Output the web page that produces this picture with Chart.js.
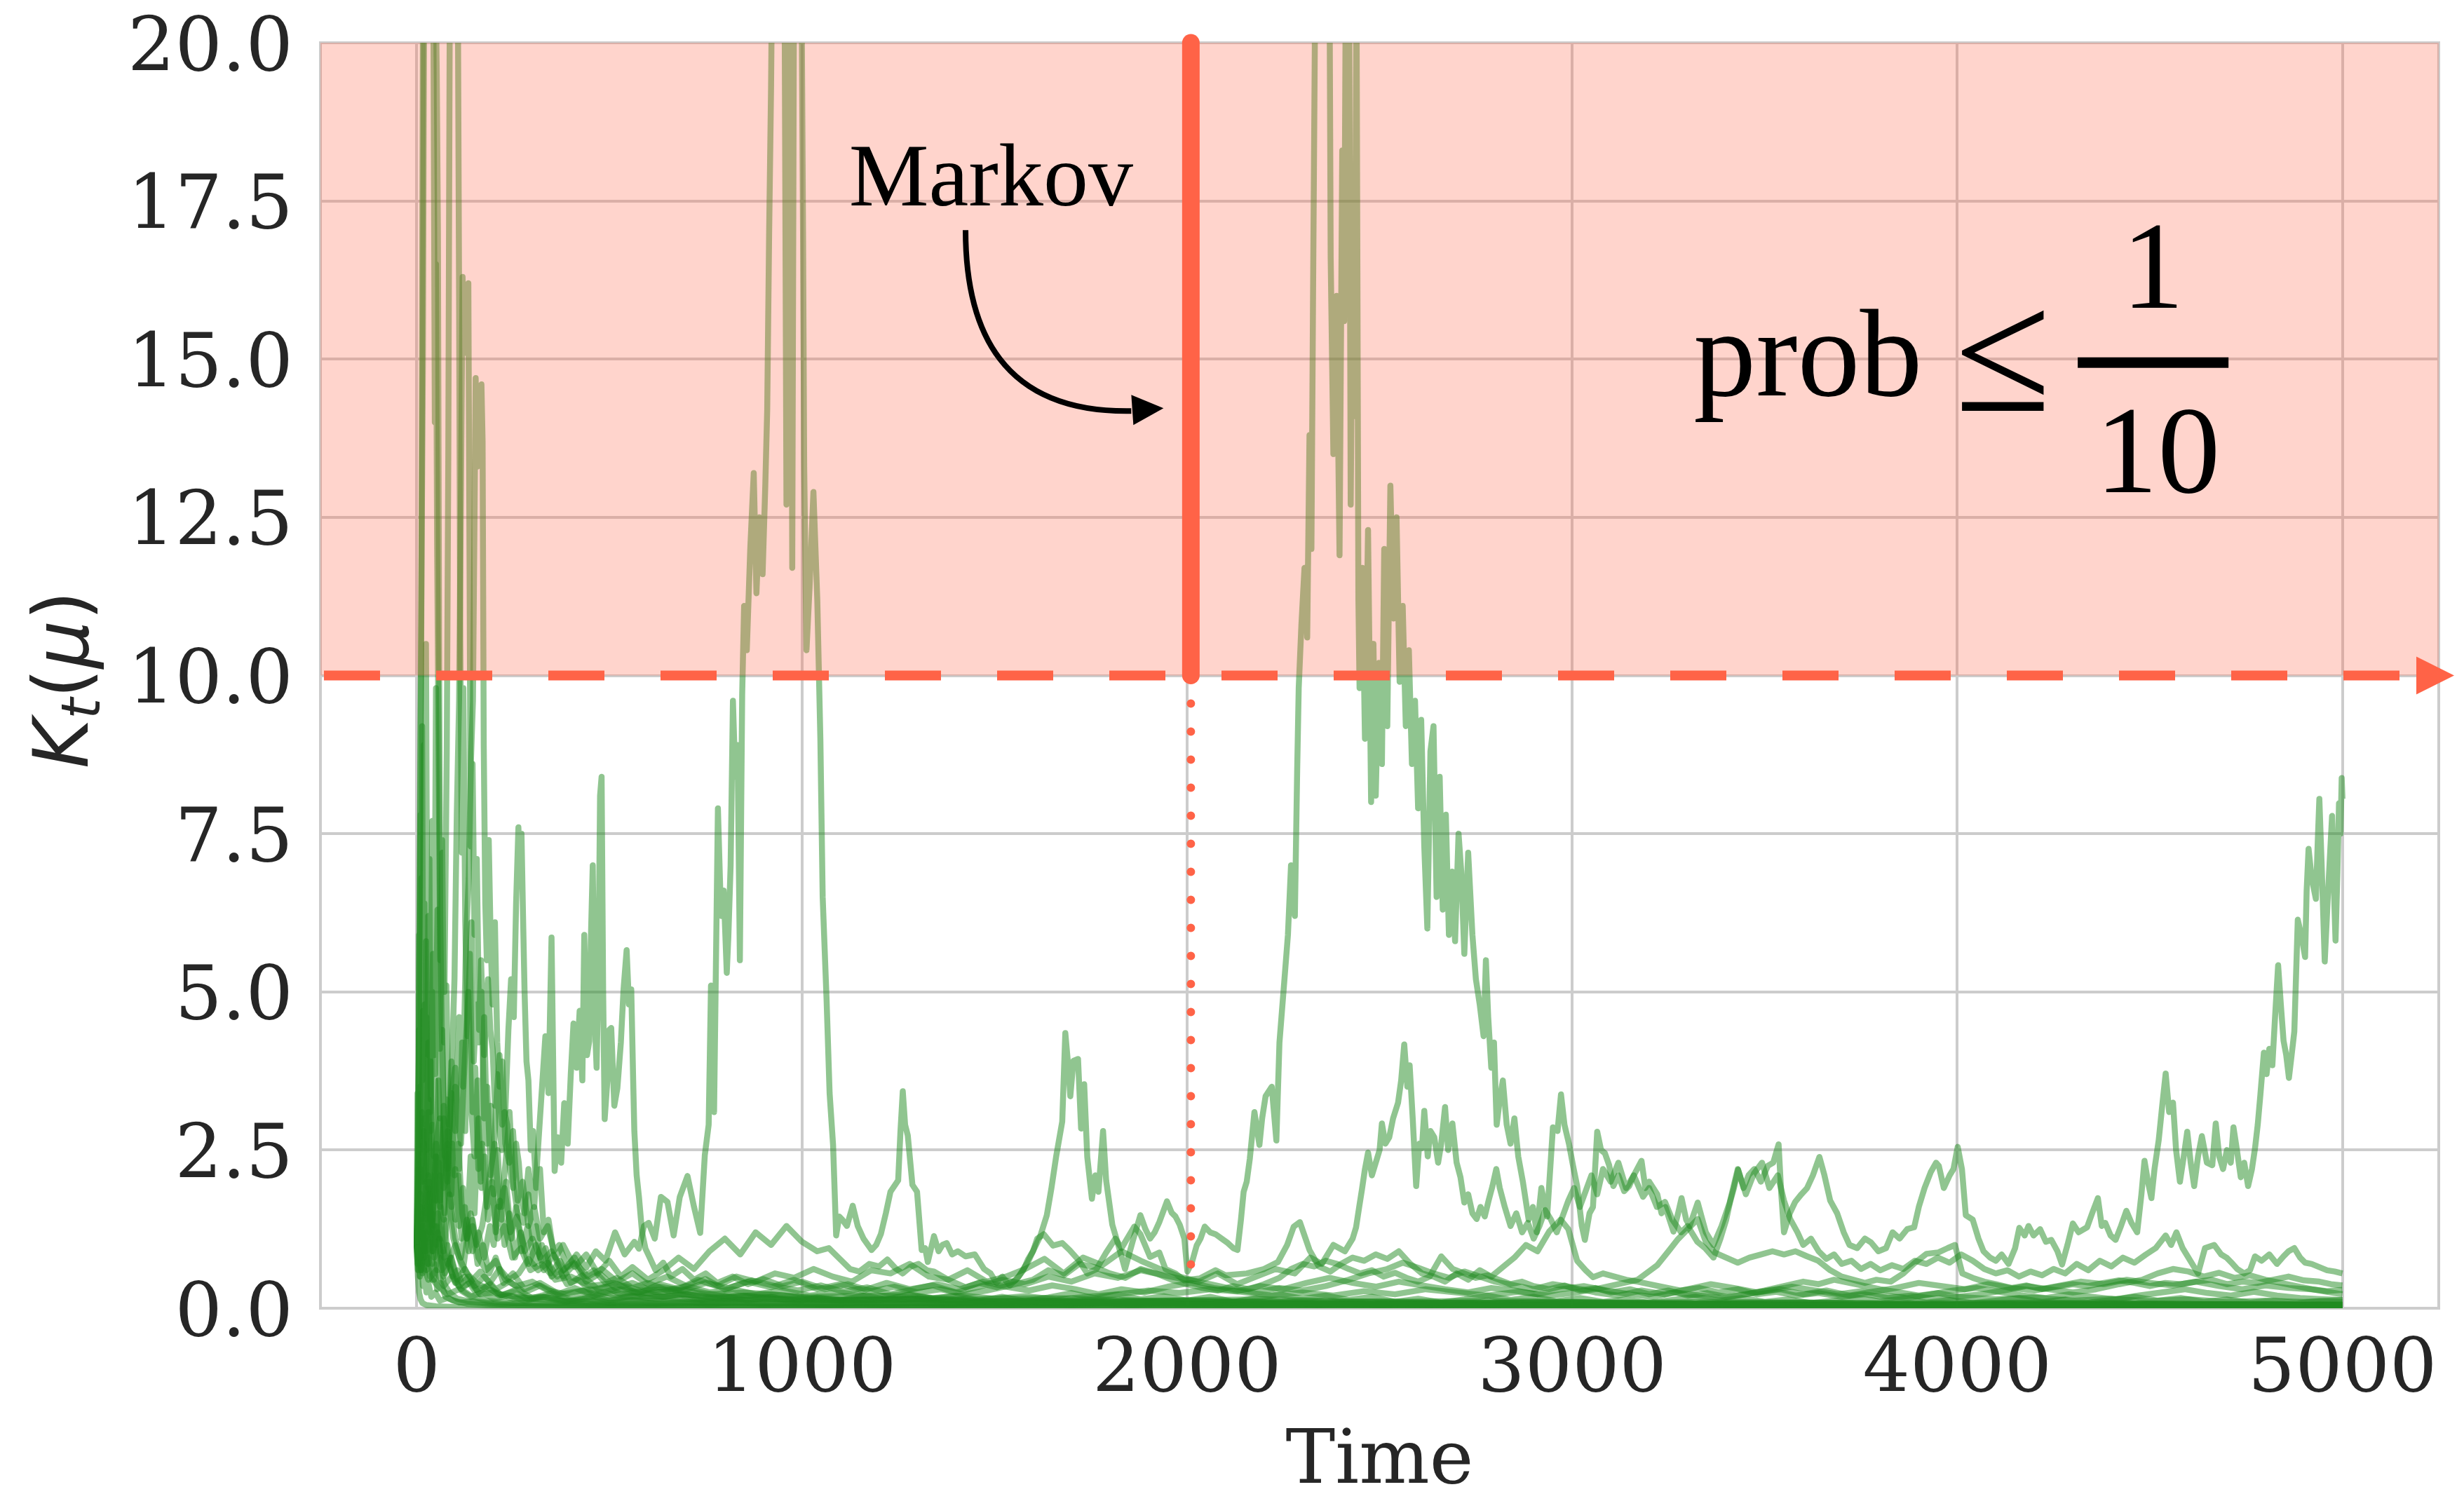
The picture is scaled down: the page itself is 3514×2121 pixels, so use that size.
<!DOCTYPE html>
<html>
<head>
<meta charset="utf-8">
<script src="https://cdn.jsdelivr.net/npm/chart.js@4.4.1/dist/chart.umd.min.js"></script>
<style>
  html, body { margin: 0; padding: 0; background: #ffffff; }
  #chart { display: block; }
</style>
</head>
<body>
<canvas id="chart" width="3514" height="2121"></canvas>
<script>
// axis ticks
const timeTicks = [0, 1000, 2000, 3000, 4000, 5000];
const levelTicks = [0, 2.5, 5, 7.5, 10, 12.5, 15, 17.5, 20];

// threshold and Markov stopping point
const threshold = 10;
const markovTime = 2010;
const markovStop = 0.57;

// sample paths, [time, K_t]
const wanderPath = [
  [0,1.0],[15,0.7],[30,0.45],[50,0.6],[70,0.35],[90,0.5],[115,0.3],[140,0.42],[165,0.58],[190,0.4],
  [215,0.62],[240,0.45],[265,0.55],[290,0.78],[315,0.6],[340,0.72],[365,0.5],[390,0.66],[415,0.85],[440,0.64],
  [465,0.9],[490,0.75],[515,1.2],[540,0.85],[565,1.05],[577,0.94],[590,1.3],[602,1.35],[618,1.1],[634,1.76],
  [651,1.68],[667,1.15],[683,1.76],[703,2.09],[720,1.6],[736,1.19],[748,2.42],[758,2.9],[764,5.1],[772,3.1],
  [782,7.9],[790,6.2],[797,6.6],[805,5.3],[809,5.86],[815,7.0],[821,9.6],[827,8.4],[833,8.9],[839,5.5],
  [845,9.7],[850,11.1],[857,10.4],[866,12.0],[875,13.2],[882,11.3],[890,12.5],[898,11.6],[905,13.0],[910,14.2],
  [915,17.0],[920,19.3],[924,22],[935,24],[948,23],[955,21],[960,12.7],[965,17.5],[970,23],[975,11.7],
  [980,22],[990,25],[998,22],[1003,17.0],[1006,13.3],[1012,10.4],[1020,11.4],[1030,12.9],[1040,11.2],[1048,9.0],
  [1054,6.5],[1064,4.9],[1072,3.4],[1081,2.58],[1089,1.15],[1097,1.45],[1105,1.4],[1117,1.3],[1132,1.62],[1145,1.3],
  [1160,1.1],[1181,0.92],[1193,1.0],[1205,1.17],[1218,1.5],[1230,1.84],[1250,2.02],[1256,2.8],[1262,3.43],[1268,2.9],
  [1275,2.73],[1287,1.95],[1299,1.84],[1311,0.92],[1320,0.95],[1327,0.73],[1343,1.14],[1355,0.9],[1365,1.0],[1376,1.03],
  [1390,0.85],[1405,0.9],[1425,0.82],[1449,0.85],[1473,0.62],[1490,0.55],[1505,0.4],[1520,0.5],[1540,0.36],[1563,0.5],
  [1575,0.62],[1587,0.73],[1600,0.9],[1619,1.14],[1636,1.47],[1648,1.9],[1660,2.39],[1676,2.95],[1684,4.35],[1692,3.8],
  [1697,3.35],[1705,3.91],[1717,3.94],[1725,2.84],[1733,3.54],[1741,2.39],[1753,1.73],[1762,2.1],[1770,1.84],[1782,2.8],
  [1790,2.02],[1806,1.32],[1822,0.99],[1839,0.62],[1859,1.06],[1879,1.47],[1892,1.25],[1904,1.1],[1916,1.2],[1928,1.36],
  [1948,1.69],[1960,1.51],[1970,1.45],[1981,1.32],[1993,1.1],[2001,0.58],[2013,0.73],[2025,0.99],[2035,1.1],[2046,1.29],
  [2060,1.2],[2074,1.17],[2090,1.1],[2106,1.03],[2120,0.95],[2131,0.92],[2140,1.4],[2147,1.84],[2155,2.0],[2163,2.36],
  [2175,3.1],[2188,2.58],[2195,3.0],[2204,3.35],[2220,3.5],[2232,2.65],[2240,4.2],[2253,5.2],[2262,5.9],[2270,7.0],
  [2280,6.2],[2286,8.5],[2290,9.8],[2297,10.8],[2305,11.7],[2312,10.6],[2318,13.8],[2323,12.0],[2327,15.8],[2333,21],
  [2342,24],[2352,22],[2362,25],[2370,21],[2373,16.6],[2380,13.5],[2388,16.0],[2396,11.9],[2403,18.3],[2408,15.6],
  [2413,22],[2420,23],[2425,12.7],[2430,16.7],[2435,14.1],[2440,21],[2445,11.2],[2448,9.8],[2455,11.7],[2462,9.0],
  [2470,12.3],[2478,8.0],[2484,10.5],[2490,8.1],[2498,10.2],[2506,8.6],[2512,12.0],[2520,9.2],[2528,13.0],[2536,10.9],
  [2544,12.5],[2552,9.9],[2560,11.1],[2568,9.2],[2576,10.4],[2584,8.6],[2592,9.6],[2600,7.9],[2608,9.3],[2616,7.3],
  [2624,6.0],[2632,8.8],[2640,9.2],[2648,6.5],[2656,8.4],[2664,6.3],[2672,7.8],[2680,5.9],[2688,6.9],[2696,5.8],
  [2705,7.5],[2712,6.9],[2720,5.6],[2730,7.2],[2741,5.9],[2750,5.2],[2760,4.8],[2770,4.3],[2776,5.5],[2782,4.6],
  [2790,3.8],[2797,4.2],[2804,2.9],[2812,3.3],[2820,3.6],[2830,2.9],[2840,2.6],[2850,3.0],[2860,2.4],[2872,2.0],
  [2887,1.4],[2898,1.6],[2908,1.2],[2920,1.9],[2935,1.45],[2950,2.86],[2962,2.8],[2971,3.38],[2980,2.9],[2992,2.59],
  [3002,2.26],[3013,1.93],[3025,1.3],[3033,1.08],[3045,1.5],[3054,1.6],[3065,2.79],[3075,2.5],[3085,2.45],[3096,2.26],
  [3107,1.93],[3120,2.1],[3135,1.85],[3148,1.93],[3160,2.1],[3180,2.33],[3190,1.9],[3200,2.0],[3221,1.8],[3232,1.5],
  [3242,1.6],[3263,1.21],[3275,1.5],[3284,1.74],[3296,1.4],[3305,1.3],[3326,1.67],[3347,1.2],[3367,1.0],[3388,1.3],
  [3409,1.67],[3430,2.2],[3451,1.8],[3472,2.13],[3493,2.3],[3512,1.9],[3534,2.1],[3550,1.7],[3566,1.41],[3585,1.2],
  [3600,1.0],[3620,1.1],[3640,0.9],[3660,0.78],[3680,0.85],[3700,0.7],[3725,0.75],[3750,0.62],[3775,0.7],[3800,0.6],
  [3830,0.68],[3860,0.62],[3890,0.75],[3920,0.7],[3950,0.8],[3980,0.72],[4010,0.85],[4040,0.75],[4070,0.62],[4100,0.55],
  [4130,0.6],[4160,0.5],[4190,0.58],[4220,0.52],[4250,0.62],[4280,0.55],[4310,0.7],[4340,0.6],[4370,0.75],[4400,0.66],
  [4430,0.8],[4460,0.72],[4490,0.85],[4515,0.95],[4541,1.15],[4555,1.0],[4569,1.2],[4585,0.95],[4600,0.8],[4625,0.55],
  [4643,0.95],[4667,1.0],[4685,0.85],[4699,0.8],[4715,0.7],[4727,0.62],[4745,0.55],[4760,0.6],[4773,0.82],[4790,0.75],
  [4810,0.85],[4830,0.7],[4847,0.82],[4860,0.9],[4875,0.95],[4890,0.8],[4903,0.72],[4920,0.7],[4940,0.65],[4960,0.6],
  [4980,0.58],[5000,0.55]
];

const riserPath = [
  [0,1.0],[10,1.8],[20,0.9],[35,0.5],[55,0.35],[80,0.22],[110,0.3],[140,0.18],[170,0.25],[200,0.15],
  [240,0.2],[280,0.12],[330,0.18],[380,0.1],[430,0.15],[480,0.22],[530,0.3],[580,0.25],[630,0.38],[680,0.3],
  [730,0.45],[780,0.35],[830,0.5],[880,0.42],[930,0.55],[980,0.48],[1030,0.62],[1080,0.5],[1130,0.42],[1180,0.6],
  [1230,0.55],[1280,0.7],[1330,0.5],[1380,0.45],[1430,0.6],[1480,0.42],[1530,0.5],[1580,0.62],[1630,0.78],[1680,0.55],
  [1730,0.8],[1780,0.68],[1830,0.9],[1880,0.75],[1930,0.62],[1980,0.5],[2030,0.42],[2080,0.55],[2130,0.38],[2180,0.5],
  [2230,0.62],[2280,0.55],[2320,0.8],[2350,0.7],[2380,1.0],[2410,0.9],[2430,1.1],[2439,1.28],[2447,1.6],[2454,1.87],
  [2462,2.2],[2470,2.46],[2480,2.1],[2490,2.3],[2500,2.5],[2506,2.92],[2515,2.6],[2525,2.7],[2535,3.0],[2548,3.25],
  [2556,3.6],[2564,4.17],[2572,3.5],[2578,3.84],[2586,3.0],[2595,1.93],[2603,2.6],[2610,2.53],[2616,3.12],[2625,2.4],
  [2632,2.8],[2642,2.7],[2652,2.3],[2660,2.6],[2670,3.18],[2678,2.5],[2689,2.92],[2700,2.3],[2710,2.07],[2720,1.67],
  [2730,1.8],[2741,1.5],[2752,1.41],[2762,1.6],[2773,1.45],[2783,1.7],[2793,1.93],[2803,2.2],[2812,1.9],[2825,1.6],
  [2840,1.3],[2855,1.5],[2870,1.2],[2885,1.35],[2900,1.1],[2915,1.3],[2930,1.55],[2945,1.4],[2960,1.2],[2975,1.45],
  [2990,1.7],[3005,1.9],[3020,1.6],[3035,1.85],[3050,2.1],[3065,1.8],[3080,2.2],[3100,2.0],[3120,2.3],[3140,1.9],
  [3160,2.1],[3184,1.76],[3200,1.9],[3220,1.6],[3241,1.68],[3260,1.4],[3283,1.2],[3300,1.3],[3325,1.05],[3345,0.95],
  [3367,0.8],[3385,1.1],[3400,1.4],[3410,1.68],[3420,1.9],[3431,2.19],[3445,1.9],[3458,2.1],[3473,2.2],[3490,2.0],
  [3508,2.25],[3522,2.3],[3536,2.59],[3543,1.8],[3550,1.2],[3565,1.5],[3579,1.68],[3595,1.8],[3610,1.9],[3625,2.1],
  [3642,2.39],[3655,2.1],[3670,1.7],[3688,1.5],[3705,1.2],[3720,1.0],[3740,0.95],[3760,1.1],[3776,1.04],[3795,0.9],
  [3815,0.95],[3832,1.2],[3850,1.1],[3870,1.25],[3888,1.28],[3900,1.6],[3915,1.9],[3931,2.15],[3945,2.3],[3952,2.25],
  [3965,1.9],[3980,2.1],[3990,2.2],[4001,2.55],[4012,2.2],[4022,1.47],[4040,1.4],[4055,1.1],[4068,0.9],[4085,0.8],
  [4100,0.75],[4115,0.85],[4133,0.7],[4150,0.95],[4161,1.27],[4175,1.15],[4185,1.3],[4198,1.15],[4215,1.25],[4230,1.05],
  [4244,1.08],[4260,0.9],[4272,0.69],[4286,1.0],[4300,1.34],[4315,1.2],[4337,1.28],[4350,1.5],[4365,1.74],[4375,1.3],
  [4384,1.35],[4398,1.15],[4411,1.08],[4425,1.3],[4439,1.54],[4452,1.35],[4467,1.2],[4478,1.8],[4486,2.33],[4495,2.0],
  [4504,1.74],[4512,2.2],[4523,2.66],[4532,3.2],[4541,3.71],[4550,3.1],[4560,3.25],[4568,2.5],[4578,2.0],[4588,2.4],
  [4597,2.79],[4606,2.3],[4615,1.93],[4625,2.4],[4635,2.72],[4648,2.3],[4662,2.26],[4671,2.92],[4680,2.4],[4690,2.2],
  [4700,2.5],[4710,2.3],[4717,2.86],[4726,2.5],[4736,2.07],[4745,2.3],[4755,1.93],[4765,2.2],[4773,2.53],[4780,2.9],
  [4787,3.38],[4796,4.04],[4803,3.7],[4810,4.1],[4818,3.84],[4825,4.6],[4833,5.42],[4840,4.8],[4847,4.23],[4854,4.0],
  [4861,3.64],[4868,4.0],[4875,4.37],[4884,6.14],[4893,5.9],[4903,5.55],[4907,6.6],[4912,7.26],[4920,6.8],[4931,6.47],
  [4936,7.4],[4940,8.05],[4946,7.0],[4954,5.48],[4962,6.5],[4968,7.2],[4973,7.78],[4978,6.6],[4982,5.81],[4987,6.9],
  [4991,7.98],[4995,7.5],[4998,8.38],[5000,8.05]
];

const burstA = [
  [0,1.0],[4,2.6],[8,6.5],[12,11],[15,18],[19,26],[26,30],[34,27],[41,24],[47,22],[52,19.5],[55,17],[58,10.5],
  [61,6.2],[65,4.4],[70,3.1],[76,2.2],[84,1.6],[95,1.1],[110,0.8],[130,0.55],[155,0.4],[185,0.3],[220,0.22],
  [260,0.18],[320,0.14],[400,0.11],[500,0.09],[650,0.08],[800,0.1],[1000,0.07],[1250,0.09],[1500,0.06],[1800,0.08],
  [2100,0.05],[2500,0.06],[3000,0.04],[3500,0.05],[4000,0.03],[4500,0.04],[5000,0.03]
];

const burstB = [
  [0,1.0],[5,3.8],[10,9.5],[16,15],[21,24],[28,27],[36,25],[43,21],[47,14],[50,16.5],[53,12],[57,8.6],[61,5.5],
  [66,7.4],[71,4.2],[77,5.1],[83,2.9],[90,3.4],[98,2.1],[108,2.6],[118,1.5],[130,1.1],[145,1.4],[160,0.8],
  [180,0.6],[205,0.75],[230,0.45],[260,0.35],[300,0.42],[340,0.28],[390,0.22],[450,0.3],[520,0.2],[600,0.16],
  [700,0.22],[800,0.15],[950,0.18],[1100,0.12],[1300,0.15],[1500,0.1],[1750,0.13],[2000,0.09],[2300,0.12],
  [2600,0.08],[2900,0.1],[3200,0.07],[3600,0.09],[4000,0.06],[4400,0.08],[4800,0.05],[5000,0.05]
];

const burstC = [
  [0,1.0],[6,2.2],[12,1.4],[18,3.0],[24,2.1],[30,4.2],[36,2.8],[42,5.6],[48,3.7],[54,6.3],[60,4.1],[66,7.2],
  [72,5.0],[78,8.8],[82,13.5],[86,21],[92,27],[100,25],[106,22],[110,16],[113,10.5],[117,7.2],[121,9.8],[126,6.1],
  [132,4.3],[138,5.6],[145,3.1],[152,3.8],[160,2.2],[170,2.6],[182,1.6],[195,1.9],[210,1.1],[228,1.3],[248,0.8],
  [270,0.95],[295,0.6],[325,0.7],[360,0.45],[400,0.5],[450,0.35],[510,0.4],[580,0.28],[660,0.3],[750,0.22],
  [850,0.25],[1000,0.18],[1200,0.2],[1400,0.14],[1650,0.16],[1900,0.12],[2200,0.14],[2500,0.1],[2800,0.12],
  [3100,0.09],[3400,0.1],[3800,0.08],[4200,0.09],[4600,0.07],[5000,0.06]
];

const burstD = [
  [0,1.0],[8,0.7],[16,1.3],[24,0.9],[32,1.8],[40,1.2],[50,2.4],[60,1.6],[70,3.0],[80,2.0],[90,3.6],[98,5.2],
  [104,7.8],[110,9.6],[115,13],[119,16.3],[124,15.1],[129,15.8],[134,16.2],[137,12],[140,7.3],[145,8.6],[150,5.9],
  [156,7.1],[162,4.4],[168,5.0],[175,3.0],[183,3.5],[192,2.1],[202,2.6],[214,1.6],[228,1.9],[243,1.2],[260,1.45],
  [280,0.9],[300,1.1],[325,0.75],[350,0.9],[380,0.6],[410,0.72],[445,0.5],[480,0.62],[520,0.42],[560,0.55],
  [600,0.38],[650,0.5],[700,0.35],[750,0.46],[800,0.3],[860,0.42],[920,0.33],[980,0.45],[1040,0.3],[1100,0.38],
  [1160,0.28],[1220,0.4],[1280,0.3],[1340,0.36],[1400,0.25],[1460,0.34],[1520,0.45],[1580,0.38],[1640,0.5],
  [1700,0.42],[1760,0.55],[1820,0.48],[1880,0.6],[1940,0.52],[2000,0.45],[2060,0.38],[2120,0.3],[2180,0.25],
  [2240,0.32],[2300,0.28],[2360,0.35],[2420,0.45],[2470,0.55],[2520,0.62],[2560,0.72],[2600,0.64],[2640,0.55],
  [2680,0.48],[2720,0.58],[2760,0.5],[2800,0.42],[2850,0.36],[2900,0.3],[2950,0.38],[3000,0.33],[3060,0.25],
  [3120,0.2],[3180,0.28],[3240,0.22],[3300,0.3],[3360,0.38],[3420,0.32],[3480,0.25],[3540,0.3],[3600,0.22],
  [3660,0.28],[3720,0.2],[3780,0.26],[3840,0.32],[3900,0.4],[3960,0.35],[4020,0.3],[4080,0.38],[4140,0.32],
  [4200,0.28],[4260,0.35],[4320,0.42],[4380,0.38],[4440,0.45],[4500,0.4],[4560,0.36],[4620,0.42],[4680,0.35],
  [4740,0.3],[4800,0.36],[4860,0.32],[4920,0.3],[4960,0.27],[5000,0.29]
];

const burstE = [
  [0,1.0],[10,1.6],[20,0.9],[30,2.1],[40,1.3],[50,2.6],[60,1.7],[70,3.2],[80,2.2],[90,3.9],[100,2.8],[110,4.6],
  [120,3.5],[128,5.8],[135,6.8],[141,8.7],[146,9.6],[150,12.5],[153,14.7],[157,13.3],[161,14.2],[165,13.9],
  [168,14.6],[171,13.7],[174,8.9],[178,6.4],[182,5.5],[187,7.4],[192,5.8],[197,4.8],[203,6.1],[209,4.2],[215,3.5],
  [222,3.9],[230,2.6],[240,2.3],[250,2.8],[262,1.7],[275,2.0],[290,1.3],[305,1.6],[320,1.1],[340,1.3],[360,0.8],
  [380,1.0],[410,0.65],[440,0.85],[470,0.55],[500,0.75],[530,0.5],[560,0.65],[600,0.45],[640,0.6],[680,0.8],
  [720,0.62],[760,0.9],[800,1.1],[840,0.85],[880,1.2],[920,1.0],[960,1.3],[1000,1.05],[1040,0.9],[1070,0.95],
  [1100,0.77],[1125,0.62],[1149,0.58],[1175,0.7],[1200,0.66],[1222,0.77],[1245,0.62],[1262,0.55],[1283,0.66],
  [1303,0.7],[1325,0.6],[1343,0.58],[1380,0.45],[1425,0.33],[1460,0.4],[1506,0.33],[1530,0.38],[1555,0.44],
  [1575,0.6],[1587,0.77],[1600,0.9],[1611,1.1],[1628,1.17],[1652,0.99],[1676,1.03],[1695,0.92],[1717,0.77],
  [1741,0.55],[1765,0.62],[1790,0.88],[1814,1.1],[1830,0.95],[1863,1.29],[1879,1.17],[1904,0.81],[1928,0.88],
  [1944,0.62],[1970,0.55],[1993,0.44],[2033,0.47],[2074,0.6],[2100,0.52],[2155,0.55],[2200,0.62],[2236,0.73],
  [2260,1.0],[2277,1.29],[2293,1.36],[2318,0.92],[2342,0.66],[2372,0.58],[2400,0.7],[2430,0.8],[2460,0.75],
  [2490,0.85],[2520,0.78],[2550,0.9],[2580,0.7],[2610,0.55],[2640,0.5],[2670,0.42],[2700,0.55],[2730,0.45],
  [2760,0.6],[2790,0.5],[2820,0.65],[2850,0.8],[2880,1.0],[2910,0.9],[2940,1.21],[2970,1.4],[2990,1.25],
  [3013,0.75],[3035,0.6],[3054,0.49],[3080,0.55],[3110,0.5],[3140,0.45],[3170,0.42],[3200,0.38],[3240,0.33],
  [3280,0.28],[3330,0.32],[3380,0.25],[3430,0.3],[3480,0.22],[3530,0.26],[3580,0.2],[3640,0.24],[3700,0.18],
  [3760,0.22],[3820,0.16],[3880,0.2],[3940,0.15],[4000,0.18],[4100,0.14],[4200,0.17],[4300,0.12],[4400,0.15],
  [4500,0.11],[4600,0.14],[4700,0.1],[4800,0.12],[4900,0.1],[5000,0.13]
];

const burstF = [
  [0,1.0],[15,0.55],[30,0.8],[45,0.45],[60,1.1],[80,0.7],[100,1.0],[120,0.6],[140,1.5],[155,1.0],[170,1.3],
  [185,1.9],[200,2.5],[208,3.4],[215,4.0],[222,2.9],[230,3.1],[238,4.4],[245,5.2],[252,4.6],[258,6.4],[264,7.6],
  [268,6.8],[272,7.5],[276,6.2],[280,5.0],[285,3.9],[290,3.6],[296,2.5],[302,2.8],[310,1.9],[320,2.2],[330,1.2],
  [342,1.4],[355,0.9],[370,1.0],[390,0.65],[410,0.8],[435,0.5],[460,0.6],[490,0.4],[520,0.48],[560,0.32],
  [600,0.4],[650,0.28],[700,0.35],[760,0.25],[820,0.3],[880,0.22],[950,0.28],[1020,0.2],[1100,0.25],[1180,0.18],
  [1260,0.22],[1340,0.16],[1420,0.2],[1500,0.15],[1580,0.19],[1660,0.14],[1740,0.18],[1820,0.22],[1900,0.28],
  [1980,0.24],[2060,0.3],[2140,0.26],[2220,0.2],[2300,0.25],[2380,0.2],[2460,0.27],[2540,0.22],[2620,0.3],
  [2700,0.25],[2780,0.2],[2860,0.26],[2940,0.2],[3000,0.24],[3060,0.3],[3120,0.38],[3170,0.45],[3221,0.68],
  [3250,0.9],[3273,1.08],[3300,1.25],[3326,1.41],[3347,1.05],[3370,0.88],[3400,0.8],[3430,0.72],[3460,0.8],
  [3490,0.85],[3520,0.9],[3550,0.85],[3580,0.9],[3610,0.82],[3639,0.75],[3670,0.6],[3700,0.5],[3730,0.45],
  [3760,0.4],[3790,0.45],[3827,0.42],[3860,0.55],[3890,0.72],[3920,0.86],[3950,0.88],[3975,0.95],[3994,1.0],
  [4013,0.55],[4040,0.48],[4070,0.42],[4100,0.38],[4140,0.32],[4180,0.36],[4220,0.3],[4260,0.34],[4300,0.38],
  [4340,0.35],[4380,0.4],[4420,0.44],[4460,0.4],[4500,0.35],[4540,0.4],[4580,0.38],[4620,0.42],[4660,0.45],
  [4700,0.38],[4740,0.42],[4780,0.4],[4820,0.45],[4860,0.5],[4900,0.44],[4940,0.42],[4970,0.38],[5000,0.36]
];

const burstG = [
  [0,1.0],[12,0.6],[25,1.2],[40,0.7],[55,1.5],[70,0.9],[85,1.8],[100,1.1],[115,0.8],[130,1.4],[145,0.9],
  [160,1.2],[175,0.8],[190,1.3],[200,1.0],[210,1.6],[220,1.6],[232,2.4],[241,3.1],[250,2.0],[262,1.5],[277,1.35],
  [290,2.2],[305,1.6],[320,3.0],[334,4.3],[342,3.4],[350,5.86],[358,2.17],[366,2.7],[375,2.3],[383,3.24],
  [392,2.6],[400,3.7],[407,4.5],[415,3.8],[423,4.7],[430,3.6],[435,5.9],[442,4.0],[448,4.22],[452,5.8],[457,7.0],
  [462,4.6],[467,3.8],[472,5.4],[476,8.1],[480,8.4],[484,5.0],[488,2.99],[495,3.6],[500,4.4],[505,4.43],
  [513,3.2],[521,3.48],[530,4.2],[537,5.04],[545,5.66],[551,4.8],[557,5.04],[562,3.6],[565,2.8],[571,2.1],
  [577,1.76],[585,1.2],[594,0.94],[605,0.8],[620,0.6],[640,0.72],[660,0.5],[690,0.62],[720,0.45],[750,0.55],
  [780,0.4],[820,0.5],[860,0.38],[900,0.46],[950,0.35],[1000,0.42],[1060,0.3],[1120,0.38],[1180,0.27],
  [1240,0.34],[1300,0.25],[1360,0.3],[1420,0.22],[1480,0.28],[1540,0.36],[1600,0.45],[1640,0.6],[1680,0.52],
  [1720,0.7],[1760,0.65],[1800,0.55],[1840,0.48],[1880,0.62],[1920,0.55],[1960,0.45],[2000,0.38],[2040,0.32],
  [2080,0.28],[2120,0.35],[2160,0.3],[2200,0.38],[2240,0.48],[2270,0.62],[2300,0.7],[2330,0.66],[2360,0.75],
  [2390,0.7],[2420,0.62],[2450,0.55],[2480,0.6],[2510,0.5],[2540,0.56],[2570,0.48],[2600,0.42],[2630,0.5],
  [2660,0.82],[2690,0.62],[2720,0.55],[2750,0.48],[2780,0.52],[2810,0.45],[2840,0.38],[2870,0.42],[2900,0.35],
  [2940,0.3],[2980,0.36],[3020,0.28],[3060,0.32],[3100,0.25],[3150,0.3],[3200,0.22],[3250,0.28],[3300,0.2],
  [3350,0.24],[3400,0.18],[3450,0.22],[3500,0.28],[3550,0.35],[3600,0.42],[3640,0.38],[3680,0.45],[3720,0.4],
  [3760,0.35],[3800,0.3],[3850,0.25],[3900,0.2],[3950,0.24],[4000,0.18],[4060,0.22],[4120,0.28],[4180,0.35],
  [4240,0.3],[4300,0.25],[4360,0.3],[4420,0.38],[4480,0.45],[4520,0.55],[4560,0.62],[4600,0.58],[4640,0.5],
  [4680,0.56],[4720,0.48],[4760,0.52],[4800,0.45],[4840,0.4],[4880,0.35],[4920,0.3],[4960,0.26],[5000,0.22]
];

const burstH = [
  [0,1.0],[10,2.2],[20,1.5],[30,3.1],[40,1.4],[50,2.6],[60,3.0],[70,1.9],[80,2.1],[90,3.4],[100,3.8],[108,2.9],
  [115,2.6],[122,3.6],[130,4.5],[136,5.2],[142,6.1],[148,3.9],[155,4.8],[161,4.2],[167,5.5],[175,4.0],[185,5.2],
  [191,4.4],[197,4.1],[203,3.2],[209,3.7],[215,2.8],[221,2.5],[228,3.1],[235,2.9],[242,2.2],[250,1.9],[258,2.6],
  [265,2.3],[272,1.7],[280,1.5],[290,1.8],[300,1.1],[310,1.3],[320,0.8],[335,0.95],[350,0.5],[370,0.6],
  [390,0.38],[420,0.45],[450,0.28],[490,0.34],[530,0.22],[580,0.26],[640,0.18],[700,0.22],[780,0.15],[860,0.19],
  [950,0.13],[1050,0.16],[1150,0.12],[1300,0.15],[1450,0.1],[1600,0.13],[1800,0.09],[2000,0.12],[2250,0.08],
  [2500,0.11],[2750,0.07],[3000,0.1],[3300,0.07],[3600,0.09],[3900,0.06],[4200,0.08],[4500,0.05],[4800,0.07],
  [5000,0.05]
];

const spikeI = [
  [0,1.0],[5,1.8],[10,3.4],[15,2.0],[20,4.8],[25,2.5],[30,6.2],[35,3.1],[40,7.7],[45,4.0],[50,9.8],[55,5.2],
  [60,3.0],[66,4.4],[72,2.4],[78,3.3],[85,1.8],[92,2.6],[100,1.4],[108,2.1],[116,1.1],[125,1.6],[135,0.9],
  [145,1.3],[158,0.7],[172,1.0],[188,0.55],[205,0.8],[225,0.4],[250,0.55],[280,0.3],[320,0.4],[370,0.22],
  [430,0.28],[500,0.16],[600,0.2],[750,0.12],[950,0.15],[1200,0.09],[1600,0.11],[2100,0.07],[2700,0.09],
  [3400,0.06],[4200,0.07],[5000,0.05]
];

const spikeJ = [
  [0,1.0],[10,0.6],[20,1.1],[30,0.7],[40,1.5],[50,1.0],[60,2.1],[70,1.4],[80,2.8],[90,1.8],[100,3.5],[110,2.2],
  [118,4.2],[126,2.8],[134,5.0],[142,3.1],[150,2.4],[158,3.6],[166,2.0],[175,4.6],[183,2.6],[192,3.2],[200,1.8],
  [210,2.5],[220,1.4],[232,2.0],[245,1.1],[258,1.6],[272,0.9],[288,1.3],[305,0.7],[325,1.0],[348,0.55],[372,0.75],
  [400,0.4],[430,0.52],[470,0.3],[520,0.38],[580,0.22],[650,0.28],[740,0.16],[850,0.2],[1000,0.12],[1200,0.14],
  [1500,0.09],[1900,0.11],[2400,0.07],[3000,0.08],[3700,0.05],[4400,0.06],[5000,0.04]
];

const spikeK = [
  [0,1.0],[8,1.4],[16,0.8],[24,2.0],[32,1.2],[40,2.9],[48,1.7],[56,3.6],[64,2.3],[72,1.5],[80,2.6],[90,1.6],
  [100,2.2],[110,1.3],[120,1.9],[130,1.1],[140,2.4],[150,1.5],[160,3.0],[168,1.9],[176,2.4],[185,1.4],[195,2.0],
  [205,1.2],[216,1.7],[228,1.0],[240,1.5],[255,0.8],[270,1.2],[290,0.7],[310,1.0],[330,0.6],[355,0.85],[380,0.5],
  [410,0.7],[440,0.42],[475,0.55],[515,0.32],[560,0.4],[620,0.25],[700,0.3],[800,0.18],[920,0.22],[1080,0.13],
  [1300,0.15],[1600,0.1],[2000,0.12],[2500,0.08],[3100,0.09],[3800,0.06],[4500,0.07],[5000,0.05]
];

const lowA = [
  [0,1.0],[5,0.6],[12,1.5],[20,0.8],[30,1.9],[40,0.9],[55,1.2],[70,0.5],[90,0.8],[110,0.35],[135,0.5],[160,0.25],
  [190,0.38],[220,0.2],[260,0.3],[300,0.16],[350,0.24],[400,0.14],[450,0.2],[500,0.12],[560,0.2],[620,0.15],
  [680,0.22],[740,0.13],[800,0.19],[860,0.12],[920,0.18],[980,0.1],[1040,0.17],[1100,0.12],[1160,0.2],[1220,0.14],
  [1280,0.22],[1340,0.15],[1400,0.2],[1460,0.12],[1520,0.18],[1580,0.11],[1640,0.17],[1700,0.24],[1760,0.16],
  [1820,0.22],[1880,0.14],[1940,0.19],[2000,0.12],[2060,0.18],[2120,0.1],[2180,0.16],[2240,0.22],[2300,0.15],
  [2360,0.2],[2420,0.13],[2480,0.18],[2540,0.1],[2600,0.15],[2660,0.09],[2720,0.14],[2780,0.2],[2840,0.13],
  [2900,0.18],[2960,0.11],[3020,0.16],[3080,0.1],[3140,0.14],[3200,0.08],[3260,0.13],[3320,0.18],[3380,0.12],
  [3440,0.16],[3500,0.1],[3560,0.14],[3620,0.08],[3680,0.12],[3740,0.17],[3800,0.11],[3860,0.15],[3920,0.09],
  [3980,0.13],[4040,0.08],[4100,0.12],[4160,0.16],[4220,0.1],[4280,0.14],[4340,0.09],[4400,0.13],[4460,0.18],
  [4520,0.12],[4580,0.16],[4640,0.1],[4700,0.14],[4760,0.09],[4820,0.12],[4880,0.08],[4940,0.11],[5000,0.1]
];

const lowB = [
  [0,1.0],[6,2.2],[12,1.1],[18,2.8],[25,1.4],[33,2.0],[42,0.9],[52,1.3],[65,0.6],[80,0.75],[100,0.4],[125,0.5],
  [150,0.28],[180,0.35],[215,0.2],[250,0.26],[290,0.14],[340,0.19],[390,0.1],[440,0.15],[500,0.08],[560,0.12],
  [620,0.07],[690,0.11],[760,0.06],[830,0.1],[900,0.06],[980,0.09],[1060,0.05],[1140,0.08],[1220,0.05],[1300,0.09],
  [1380,0.06],[1460,0.1],[1540,0.06],[1620,0.09],[1700,0.05],[1780,0.08],[1860,0.05],[1940,0.09],[2020,0.06],
  [2100,0.1],[2180,0.06],[2260,0.09],[2340,0.05],[2420,0.08],[2500,0.05],[2580,0.07],[2660,0.04],[2740,0.07],
  [2820,0.04],[2900,0.06],[2980,0.04],[3060,0.07],[3140,0.04],[3220,0.06],[3300,0.04],[3380,0.06],[3460,0.03],
  [3540,0.05],[3620,0.03],[3700,0.05],[3780,0.03],[3860,0.05],[3940,0.03],[4020,0.04],[4100,0.03],[4200,0.05],
  [4300,0.03],[4400,0.04],[4500,0.03],[4600,0.04],[4700,0.02],[4800,0.04],[4900,0.02],[5000,0.03]
];

const lowC = [
  [0,1.0],[8,0.5],[16,1.2],[25,0.6],[35,1.6],[45,0.8],[58,1.1],[72,0.55],[88,0.8],[105,0.45],[125,0.62],[150,0.35],
  [175,0.5],[205,0.3],[240,0.42],[280,0.25],[320,0.36],[365,0.22],[410,0.32],[460,0.2],[510,0.3],[570,0.24],
  [630,0.34],[690,0.28],[750,0.4],[810,0.32],[870,0.44],[930,0.35],[990,0.28],[1050,0.36],[1110,0.26],[1170,0.33],
  [1230,0.22],[1290,0.3],[1350,0.38],[1410,0.3],[1470,0.42],[1530,0.34],[1590,0.28],[1650,0.36],[1710,0.3],
  [1770,0.22],[1830,0.3],[1890,0.25],[1950,0.34],[2010,0.4],[2070,0.32],[2130,0.27],[2190,0.35],[2250,0.3],
  [2310,0.4],[2370,0.48],[2430,0.4],[2490,0.34],[2550,0.42],[2610,0.36],[2670,0.3],[2730,0.25],[2790,0.32],
  [2850,0.28],[2910,0.22],[2970,0.3],[3030,0.35],[3090,0.28],[3150,0.22],[3210,0.18],[3270,0.25],[3330,0.2],
  [3390,0.16],[3450,0.22],[3510,0.28],[3570,0.34],[3630,0.28],[3690,0.22],[3750,0.27],[3810,0.2],[3870,0.16],
  [3930,0.22],[3990,0.28],[4050,0.32],[4110,0.26],[4170,0.2],[4230,0.16],[4290,0.22],[4350,0.18],[4410,0.14],
  [4470,0.2],[4530,0.25],[4590,0.3],[4650,0.24],[4710,0.2],[4770,0.26],[4830,0.2],[4890,0.16],[4950,0.14],
  [5000,0.13]
];

const fadeA = [
  [0,1.0],[2,3.4],[4,1.8],[6,5.9],[8,2.7],[10,7.8],[12,4.1],[14,9.2],[16,5.5],[18,3.2],[20,6.4],[22,2.9],
  [25,4.6],[28,1.9],[31,3.3],[34,1.4],[38,2.1],[42,0.9],[47,1.3],[53,0.6],[60,0.8],[70,0.4],[85,0.25],[105,0.15],
  [140,0.1],[200,0.06],[300,0.04],[500,0.03],[1000,0.02],[2000,0.02],[3000,0.015],[4000,0.015],[5000,0.01]
];

const fadeB = [
  [0,1.0],[3,2.1],[6,4.4],[9,2.5],[12,6.8],[15,3.6],[18,8.9],[21,5.1],[24,10.5],[27,6.2],[30,4.0],[33,7.1],
  [36,3.3],[40,5.0],[44,2.4],[48,3.6],[53,1.7],[58,2.3],[64,1.1],[72,1.4],[82,0.7],[95,0.5],[115,0.3],[140,0.2],
  [180,0.12],[250,0.08],[400,0.05],[700,0.035],[1200,0.025],[2000,0.02],[3500,0.015],[5000,0.012]
];

const fadeC = [
  [0,1.0],[2,0.7],[4,1.6],[6,0.9],[8,2.3],[10,1.2],[13,3.1],[16,1.5],[19,2.6],[22,1.0],[26,1.9],[30,0.7],
  [35,1.2],[40,0.45],[46,0.7],[53,0.3],[62,0.4],[75,0.18],[95,0.12],[130,0.07],[200,0.04],[400,0.025],
  [1000,0.015],[3000,0.01],[5000,0.008]
];

const fadeD = [
  [0,1.0],[3,0.5],[6,0.25],[10,0.14],[15,0.08],[25,0.05],[50,0.03],[100,0.02],[500,0.012],[5000,0.008]
];

const fadeE = [
  [0,1.0],[4,1.9],[8,3.5],[12,2.0],[16,4.7],[20,2.6],[24,5.8],[28,3.0],[32,1.8],[36,3.9],[40,2.2],[45,1.3],
  [50,2.4],[56,1.1],[62,1.6],[70,0.8],[80,1.0],[92,0.5],[105,0.6],[120,0.35],[140,0.4],[165,0.22],[200,0.25],
  [250,0.15],[320,0.18],[420,0.11],[560,0.13],[750,0.09],[1000,0.1],[1400,0.07],[1900,0.08],[2500,0.06],
  [3200,0.07],[4000,0.05],[5000,0.05]
];

const fadeF = [
  [0,1.0],[3,0.6],[6,1.2],[9,0.5],[12,0.9],[16,0.35],[20,0.6],[25,0.25],[30,0.4],[38,0.18],[48,0.25],[60,0.12],
  [80,0.16],[110,0.09],[150,0.11],[220,0.07],[320,0.09],[500,0.06],[800,0.08],[1300,0.05],[2000,0.07],
  [3000,0.04],[4000,0.05],[5000,0.03]
];

const allPaths = [wanderPath, riserPath, burstA, burstB, burstC, burstD, burstE, burstF, burstG, burstH,
  spikeI, spikeJ, spikeK, lowA, lowB, lowC, fadeA, fadeB, fadeC, fadeD, fadeE, fadeF];

const pathColor = 'rgba(34, 139, 34, 0.5)';
const tomato = '#ff6347';
const xTickFont = { family: '"DejaVu Serif", serif', size: 106, lineHeight: 1 };
const yTickFont = { family: '"DejaVu Serif", serif', size: 106, lineHeight: 0.2 };

// shaded region, threshold arrow, Markov marker and the text notes
const overlay = {
  id: 'overlay',
  beforeDatasetsDraw(chart) {
    const { ctx, chartArea: a } = chart;
    ctx.save();
    ctx.strokeStyle = '#cccccc';
    ctx.lineWidth = 4;
    ctx.beginPath();
    ctx.moveTo(a.left, a.top);
    ctx.lineTo(a.right, a.top);
    ctx.lineTo(a.right, a.bottom);
    ctx.stroke();
    ctx.restore();
  },
  afterDatasetsDraw(chart) {
    const { ctx, chartArea: a, scales: { x, y } } = chart;
    const yTh = y.getPixelForValue(threshold);
    const yTop = y.getPixelForValue(20);
    const xm = x.getPixelForValue(markovTime);

    ctx.save();
    ctx.fillStyle = 'rgba(255, 99, 71, 0.28)';
    ctx.fillRect(a.left, yTop, a.right - a.left, yTh - yTop);

    // dashed threshold line ending in an arrow head
    ctx.strokeStyle = tomato;
    ctx.lineWidth = 14;
    ctx.setLineDash([80, 80]);
    ctx.beginPath();
    ctx.moveTo(a.left + 5, yTh);
    ctx.lineTo(a.right + 22, yTh);
    ctx.stroke();
    ctx.setLineDash([]);
    ctx.fillStyle = tomato;
    ctx.beginPath();
    ctx.moveTo(a.right + 22, yTh);
    ctx.lineTo(a.right - 32, yTh - 27);
    ctx.lineTo(a.right - 32, yTh + 27);
    ctx.closePath();
    ctx.fill();

    // dotted drop from the threshold to the path value
    ctx.lineCap = 'round';
    ctx.lineWidth = 12;
    ctx.setLineDash([0, 40]);
    ctx.beginPath();
    ctx.moveTo(xm, yTh);
    ctx.lineTo(xm, y.getPixelForValue(markovStop));
    ctx.stroke();
    ctx.setLineDash([]);

    // thick Markov bar across the shaded band
    ctx.lineWidth = 25;
    ctx.beginPath();
    ctx.moveTo(xm, yTop);
    ctx.lineTo(xm, yTh);
    ctx.stroke();

    // curved pointer from the label to the bar
    const sx = x.getPixelForValue(1425), sy = y.getPixelForValue(17.04);
    const ex = xm - 85, ey = y.getPixelForValue(14.18);
    ctx.strokeStyle = '#000000';
    ctx.lineWidth = 8;
    ctx.lineCap = 'butt';
    ctx.beginPath();
    ctx.moveTo(sx, sy);
    ctx.bezierCurveTo(sx, sy + 142, sx + 51, ey + 3, ex, ey);
    ctx.stroke();
    ctx.fillStyle = '#000000';
    ctx.beginPath();
    ctx.moveTo(ex + 46, ey - 4);
    ctx.lineTo(ex, ey - 23);
    ctx.lineTo(ex + 3, ey + 20);
    ctx.closePath();
    ctx.fill();

    ctx.textAlign = 'center';
    ctx.textBaseline = 'alphabetic';
    ctx.font = '128px "Liberation Serif", serif';
    ctx.fillText('Markov', x.getPixelForValue(1491), y.getPixelForValue(17.43));

    // prob <= 1/10
    const px = x.getPixelForValue(3315), py = y.getPixelForValue(14.43);
    ctx.font = '178px "Liberation Serif", serif';
    ctx.textAlign = 'left';
    ctx.fillText('prob', px, py);
    ctx.textAlign = 'center';
    ctx.fillText('1', px + 655, py - 125);
    ctx.fillText('10', px + 662, py + 138);
    ctx.fillRect(px + 548, py - 54, 215, 15);
    ctx.font = '250px "Liberation Serif", serif';
    ctx.fillText('\u2264', px + 441, py + 22);

    // axis titles
    ctx.fillStyle = '#262626';
    ctx.font = '106px "DejaVu Serif", serif';
    ctx.fillText('Time', (a.left + a.right) / 2, 2115);

    ctx.translate(125, (a.top + a.bottom) / 2 + 6);
    ctx.rotate(-Math.PI / 2);
    const parts = [
      { t: 'K', f: 'italic 108px "DejaVu Sans", sans-serif', dy: 0 },
      { t: 't', f: 'italic 76px "DejaVu Sans", sans-serif', dy: 17 },
      { t: '(', f: '108px "DejaVu Sans", sans-serif', dy: 0 },
      { t: '\u03bc', f: 'italic 108px "DejaVu Sans", sans-serif', dy: 0 },
      { t: ')', f: '108px "DejaVu Sans", sans-serif', dy: 0 }
    ];
    let total = 0;
    parts.forEach(p => { ctx.font = p.f; p.w = ctx.measureText(p.t).width; total += p.w; });
    let cx = -total / 2;
    ctx.textAlign = 'left';
    parts.forEach(p => { ctx.font = p.f; ctx.fillText(p.t, cx, p.dy); cx += p.w; });
    ctx.restore();
  }
};

const ctx = document.getElementById('chart').getContext('2d');
const chart = new Chart(ctx, {
  type: 'line',
  data: {
    datasets: allPaths.map(path => ({
      data: path.map(([t, v]) => ({ x: t, y: v })),
      borderColor: pathColor,
      borderWidth: 8.5,
      borderJoinStyle: 'round',
      pointRadius: 0,
      tension: 0,
      fill: false,
      clip: 0
    }))
  },
  options: {
    responsive: false,
    animation: false,
    devicePixelRatio: 1,
    layout: { padding: { top: 61, right: 32, bottom: 0, left: 0 } },
    plugins: {
      legend: { display: false },
      tooltip: { enabled: false }
    },
    scales: {
      x: {
        type: 'linear',
        min: -250,
        max: 5250,
        afterBuildTicks: scale => { scale.ticks = timeTicks.map(v => ({ value: v })); },
        afterFit: scale => { scale.height = 255; },
        grid: { color: '#cccccc', lineWidth: 4, drawTicks: false },
        border: { color: '#cccccc', width: 4 },
        ticks: {
          font: xTickFont,
          color: '#262626',
          padding: 37,
          maxRotation: 0,
          autoSkip: false,
          callback: v => String(v)
        }
      },
      y: {
        type: 'linear',
        min: 0,
        max: 20,
        afterBuildTicks: scale => { scale.ticks = levelTicks.map(v => ({ value: v })); },
        afterFit: scale => { scale.width = 457; },
        grid: { color: '#cccccc', lineWidth: 4, drawTicks: false },
        border: { color: '#cccccc', width: 4 },
        ticks: {
          font: yTickFont,
          color: '#262626',
          padding: 39,
          labelOffset: 11,
          autoSkip: false,
          callback: v => v.toFixed(1)
        }
      }
    }
  },
  plugins: [overlay]
});
</script>
</body>
</html>
